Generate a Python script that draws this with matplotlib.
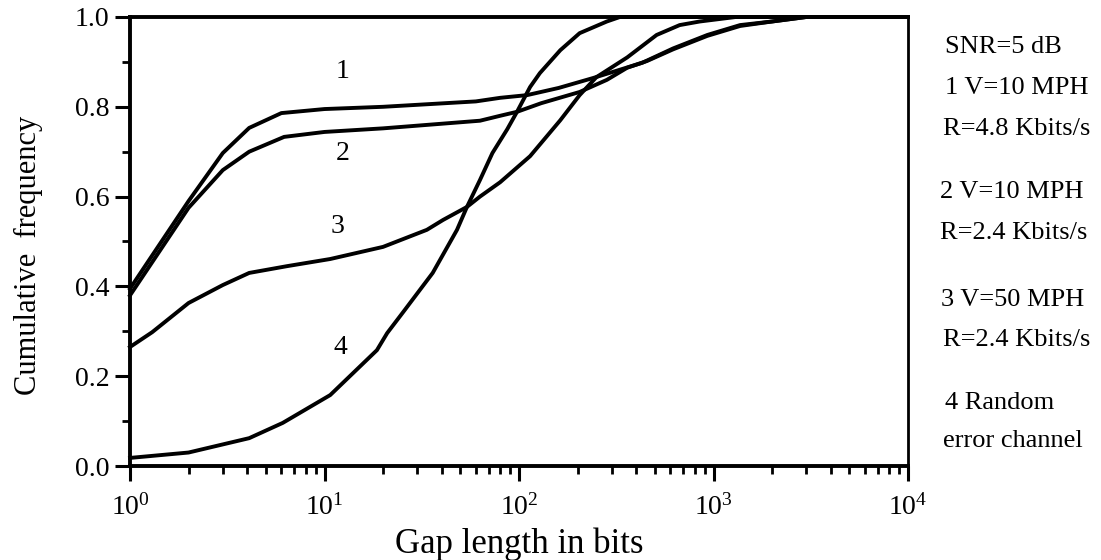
import matplotlib
matplotlib.use("Agg")
import matplotlib.pyplot as plt
import numpy as np
from matplotlib.ticker import LogLocator, MultipleLocator, NullFormatter

plt.rcParams['font.family'] = ['Liberation Serif', 'DejaVu Serif']
plt.rcParams['mathtext.fontset'] = 'custom'
plt.rcParams['mathtext.rm'] = 'Liberation Serif'

# curve 1: V=10 MPH, R=4.8 Kbits/s
x1 = [1, 2, 3, 4.1, 6, 10, 20, 60, 80, 110, 160, 240, 300, 430, 620, 930, 1370, 2000, 3000, 10000]
y1 = [0.395, 0.59, 0.697, 0.753, 0.786, 0.795, 0.80, 0.812, 0.82, 0.826, 0.842, 0.864, 0.877, 0.898, 0.93, 0.96, 0.982, 0.99, 1.0, 1.0]

# curve 2: V=10 MPH, R=2.4 Kbits/s
x2 = [1, 2, 3, 4.1, 6.2, 10, 20, 63, 80, 98, 130, 205, 283, 360, 455, 620, 930, 1370, 2000, 3000, 10000]
y2 = [0.38, 0.575, 0.659, 0.70, 0.733, 0.744, 0.752, 0.769, 0.78, 0.789, 0.808, 0.833, 0.86, 0.887, 0.902, 0.928, 0.958, 0.98, 0.99, 1.0, 1.0]

# curve 3: V=50 MPH, R=2.4 Kbits/s
x3 = [1, 1.3, 2, 3, 4.1, 6.4, 10.7, 20, 33.6, 40.7, 54, 63, 80, 114, 163, 205, 250, 360, 510, 670, 850, 1300, 10000]
y3 = [0.265, 0.298, 0.363, 0.403, 0.43, 0.445, 0.461, 0.488, 0.526, 0.548, 0.577, 0.60, 0.632, 0.69, 0.77, 0.826, 0.866, 0.91, 0.96, 0.982, 0.99, 1.0, 1.0]

# curve 4: random error channel
x4 = [1, 2, 4.1, 6.1, 10.7, 18.6, 21, 25.4, 36, 48, 54, 63, 73, 87, 98, 114, 128, 163, 205, 283, 330, 10000]
y4 = [0.018, 0.03, 0.062, 0.096, 0.158, 0.258, 0.296, 0.343, 0.43, 0.526, 0.577, 0.637, 0.697, 0.75, 0.79, 0.844, 0.875, 0.926, 0.964, 0.99, 1.0, 1.0]

curve_labels = ['1', '2', '3', '4']
label_pos = [(12.4, 0.878), (12.4, 0.697), (11.7, 0.533), (12, 0.263)]

side_text = ['SNR=5 dB', '1 V=10 MPH', 'R=4.8 Kbits/s', '2 V=10 MPH', 'R=2.4 Kbits/s',
             '3 V=50 MPH', 'R=2.4 Kbits/s', '4 Random', 'error channel']
side_pos = [(945, 47), (945, 88), (943, 129), (940, 192), (940, 233),
            (941, 300), (943, 340), (945, 403), (943, 441)]

fig = plt.figure(figsize=(11.01, 5.60), dpi=100)
ax = fig.add_axes([130 / 1101, 94 / 560, 778 / 1101, 449 / 560])

for xs, ys in [(x1, y1), (x2, y2), (x3, y3), (x4, y4)]:
    ax.plot(xs, ys, color='black', lw=2.8, solid_joinstyle='round', clip_on=False)

ax.set_xscale('log')
ax.set_xlim(1, 1e4)
ax.set_ylim(0, 1)

ax.xaxis.set_major_locator(LogLocator(base=10, numticks=10))
ax.xaxis.set_minor_locator(LogLocator(base=10, subs=np.arange(2, 10), numticks=20))
ax.xaxis.set_minor_formatter(NullFormatter())
ax.yaxis.set_major_locator(MultipleLocator(0.2))
ax.yaxis.set_minor_locator(MultipleLocator(0.1))
ax.set_yticklabels(['%.1f' % v for v in ax.get_yticks()])

ax.tick_params(which='major', direction='out', length=11, width=2.2, pad=4)
ax.tick_params(which='minor', direction='out', length=6, width=2)
ax.tick_params(axis='y', which='major', labelsize=20)
ax.tick_params(axis='x', which='major', labelsize=20, pad=9)

for side in ['left', 'bottom', 'top']:
    ax.spines[side].set_linewidth(2.8)
ax.spines['right'].set_linewidth(2)

ax.set_xlabel('Gap length in bits', fontsize=25)
ax.xaxis.set_label_coords(0.5, -0.136)
ax.set_ylabel('Cumulative  frequency', fontsize=22)
ax.yaxis.set_label_coords(-0.112, 0.47)

for lab, (lx, ly) in zip(curve_labels, label_pos):
    ax.text(lx, ly, lab, fontsize=20, ha='center', va='center')

for txt, (px, py) in zip(side_text, side_pos):
    fig.text(px / 1101, 1 - py / 560, txt, fontsize=19, ha='left', va='center')

fig.savefig('out.png', dpi=100)
